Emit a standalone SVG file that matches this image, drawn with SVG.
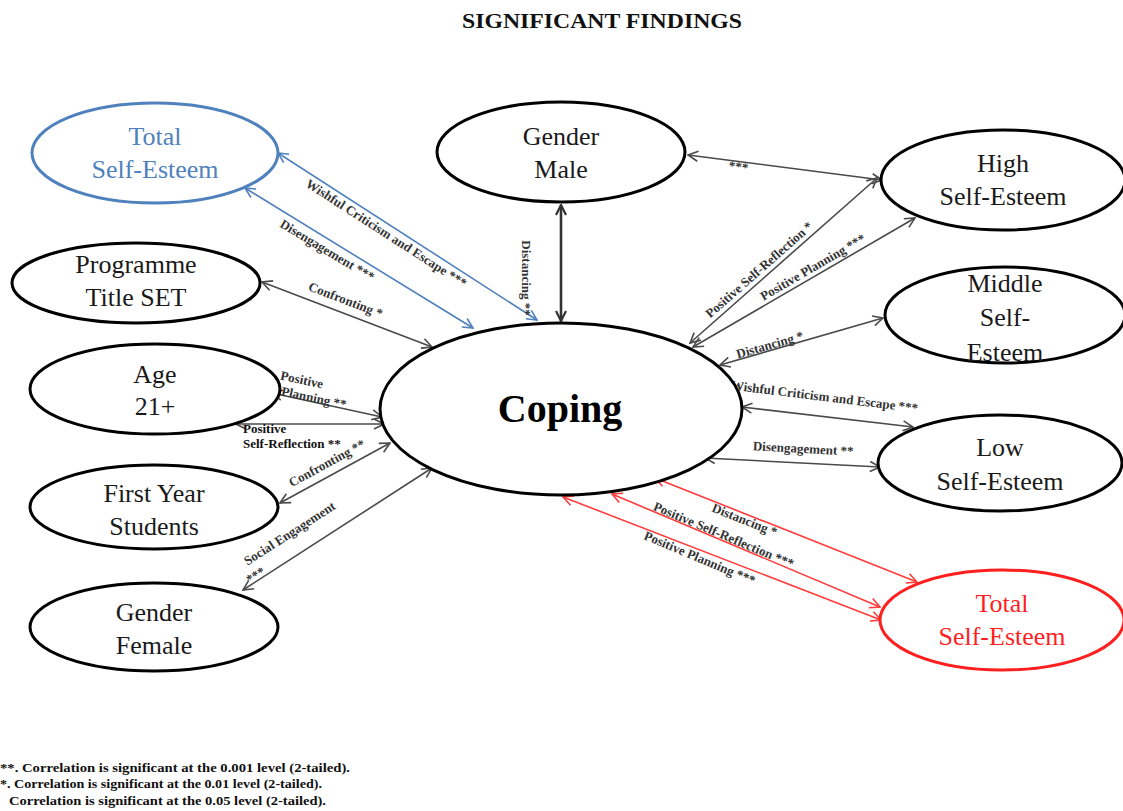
<svg xmlns="http://www.w3.org/2000/svg" width="1123" height="811" viewBox="0 0 1123 811">
<style>
.node{fill:#fff;stroke:#000;stroke-width:3}
.blue{stroke:#4f81bd}
.red{stroke:#ff1f1f}
.nt{font-family:"Liberation Serif","Times New Roman",serif;font-size:26px;fill:#1a1a1a;text-anchor:middle}
.lbl{font-family:"Liberation Serif","Times New Roman",serif;font-size:13px;font-weight:bold;fill:#333;text-anchor:middle}
.c{fill:none;stroke-width:1.6}
.cg{stroke:#4a4a4a;marker-start:url(#ag);marker-end:url(#ag)}
.cb{stroke:#4f81bd;marker-start:url(#ab);marker-end:url(#ab)}
.cr{stroke:#ff3b3b;marker-start:url(#ar);marker-end:url(#ar)}
.foot{font-family:"Liberation Serif","Times New Roman",serif;font-size:12px;font-weight:bold;fill:#111}
</style>
<defs>
<marker id="ag" viewBox="0 0 12 12" refX="11" refY="6" markerWidth="12" markerHeight="12" markerUnits="userSpaceOnUse" orient="auto-start-reverse"><path d="M1,1 L11,6 L1,11" fill="none" stroke="#4a4a4a" stroke-width="1.6"/></marker>
<marker id="ab" viewBox="0 0 12 12" refX="11" refY="6" markerWidth="12" markerHeight="12" markerUnits="userSpaceOnUse" orient="auto-start-reverse"><path d="M1,1 L11,6 L1,11" fill="none" stroke="#4f81bd" stroke-width="1.6"/></marker>
<marker id="ar" viewBox="0 0 12 12" refX="11" refY="6" markerWidth="12" markerHeight="12" markerUnits="userSpaceOnUse" orient="auto-start-reverse"><path d="M1,1 L11,6 L1,11" fill="none" stroke="#ff3b3b" stroke-width="1.6"/></marker>
<marker id="ad" viewBox="0 0 12 12" refX="11" refY="6" markerWidth="12" markerHeight="12" markerUnits="userSpaceOnUse" orient="auto-start-reverse"><path d="M1,1 L11,6 L1,11" fill="none" stroke="#333" stroke-width="2.2"/></marker>
</defs>
<rect width="1123" height="811" fill="#fff"/>
<text x="602" y="28" font-family="Liberation Serif,Times New Roman,serif" font-size="20" font-weight="bold" text-anchor="middle" textLength="280" lengthAdjust="spacingAndGlyphs" fill="#111">SIGNIFICANT FINDINGS</text>

<g id="connectors">
<line class="c cb" x1="278" y1="153" x2="537" y2="320"/>
<line class="c cb" x1="245" y1="188" x2="473" y2="328"/>
<line class="c cg" x1="262" y1="282" x2="432" y2="347"/>
<line x1="561" y1="205" x2="561" y2="321" fill="none" stroke="#333" stroke-width="2.6" marker-start="url(#ad)" marker-end="url(#ad)"/>
<line class="c cg" x1="688" y1="155" x2="882" y2="180"/>
<line class="c cg" x1="272" y1="393" x2="382" y2="417"/>
<line class="c cg" x1="236" y1="424" x2="384" y2="424"/>
<line class="c cg" x1="280" y1="503" x2="390" y2="443"/>
<line class="c cg" x1="243" y1="590" x2="432" y2="468"/>
<line class="c cg" x1="690" y1="343" x2="877" y2="178"/>
<line class="c cg" x1="693" y1="347" x2="915" y2="218"/>
<line class="c cg" x1="720" y1="365" x2="883" y2="318"/>
<line class="c cg" x1="742" y1="407" x2="913" y2="427"/>
<line class="c cg" x1="705" y1="458" x2="880" y2="467"/>
<line class="c cr" x1="655" y1="478" x2="917" y2="582"/>
<line class="c cr" x1="612" y1="494" x2="880" y2="607"/>
<line class="c cr" x1="563" y1="497" x2="881" y2="620"/>

<text class="lbl" transform="translate(384,237) rotate(32.8)">Wishful Criticism and Escape ***</text>
<text class="lbl" transform="translate(325,254) rotate(31)">Disengagement ***</text>
<text class="lbl" transform="translate(344,304) rotate(21)">Confronting *</text>
<text class="lbl" transform="translate(522,278) rotate(90)">Distancing **</text>
<text class="lbl" transform="translate(738,171) rotate(7)">***</text>
<text class="lbl" font-size="11" transform="translate(301,384) rotate(12)">Positive</text>
<text class="lbl" font-size="11" transform="translate(313,402) rotate(12)">Planning **</text>
<text class="lbl" style="text-anchor:start;fill:#111" x="243" y="433">Positive</text>
<text class="lbl" style="text-anchor:start;fill:#111" x="243" y="448">Self-Reflection **</text>
<text class="lbl" transform="translate(329,467) rotate(-28.6)">Confronting **</text>
<text class="lbl" transform="translate(292,537) rotate(-32.8)">Social Engagement</text>
<text class="lbl" transform="translate(258,579) rotate(-32.8)">***</text>
<text class="lbl" transform="translate(762,273) rotate(-41.4)">Positive Self-Reflection *</text>
<text class="lbl" transform="translate(815,271) rotate(-30.2)">Positive Planning ***</text>
<text class="lbl" transform="translate(771,349) rotate(-16)">Distancing *</text>
<text class="lbl" font-size="13.5" transform="translate(824,401) rotate(7)">Wishful Criticism and Escape ***</text>
<text class="lbl" transform="translate(803,453) rotate(3)">Disengagement **</text>
<text class="lbl" transform="translate(743,524) rotate(21.5)">Distancing *</text>
<text class="lbl" transform="translate(722,539) rotate(22.8)">Positive Self-Reflection ***</text>
<text class="lbl" transform="translate(698,562) rotate(22.8)">Positive Planning ***</text>
</g>

<g id="node-total-se-blue">
<ellipse class="node blue" cx="155" cy="153" rx="123" ry="50"/>
<text class="nt" x="155" y="145" style="fill:#4f81bd">Total</text>
<text class="nt" x="155" y="178" style="fill:#4f81bd">Self-Esteem</text>
</g>
<g id="node-programme">
<ellipse class="node" cx="136" cy="283" rx="124" ry="40"/>
<text class="nt" x="136" y="273">Programme</text>
<text class="nt" x="136" y="306">Title SET</text>
</g>
<g id="node-age">
<ellipse class="node" cx="155" cy="389" rx="125" ry="45"/>
<text class="nt" x="155" y="383">Age</text>
<text class="nt" x="155" y="415">21+</text>
</g>
<g id="node-first-year">
<ellipse class="node" cx="154" cy="507" rx="124" ry="42"/>
<text class="nt" x="154" y="502">First Year</text>
<text class="nt" x="154" y="535">Students</text>
</g>
<g id="node-gender-female">
<ellipse class="node" cx="154" cy="627" rx="124" ry="44"/>
<text class="nt" x="154" y="621">Gender</text>
<text class="nt" x="154" y="654">Female</text>
</g>
<g id="node-gender-male">
<ellipse class="node" cx="561" cy="152" rx="124" ry="50"/>
<text class="nt" x="561" y="145">Gender</text>
<text class="nt" x="561" y="178">Male</text>
</g>
<g id="node-coping">
<ellipse class="node" cx="561" cy="409" rx="181" ry="86"/>
<text x="560" y="422" font-family="Liberation Serif,Times New Roman,serif" font-size="40" font-weight="bold" text-anchor="middle" fill="#000">Coping</text>
</g>
<g id="node-high-se">
<ellipse class="node" cx="1003" cy="180" rx="122" ry="50"/>
<text class="nt" x="1003" y="172">High</text>
<text class="nt" x="1003" y="205">Self-Esteem</text>
</g>
<g id="node-middle-se">
<ellipse class="node" cx="1005" cy="315" rx="120" ry="48"/>
<text class="nt" x="1005" y="292">Middle</text>
<text class="nt" x="1005" y="326">Self-</text>
<text class="nt" x="1005" y="361">Esteem</text>
</g>
<g id="node-low-se">
<ellipse class="node" cx="1000" cy="463" rx="122" ry="48"/>
<text class="nt" x="1000" y="456">Low</text>
<text class="nt" x="1000" y="490">Self-Esteem</text>
</g>
<g id="node-total-se-red">
<ellipse class="node red" cx="1002" cy="620" rx="122" ry="50"/>
<text class="nt" x="1002" y="612" style="fill:#ff1f1f">Total</text>
<text class="nt" x="1002" y="645" style="fill:#ff1f1f">Self-Esteem</text>
</g>

<text class="foot" x="0" y="772" textLength="350" lengthAdjust="spacingAndGlyphs">**. Correlation is significant at the 0.001 level (2-tailed).</text>
<text class="foot" x="0" y="788" textLength="322" lengthAdjust="spacingAndGlyphs">*. Correlation is significant at the 0.01 level (2-tailed).</text>
<text class="foot" x="9" y="805" textLength="317" lengthAdjust="spacingAndGlyphs">Correlation is significant at the 0.05 level (2-tailed).</text>
</svg>
